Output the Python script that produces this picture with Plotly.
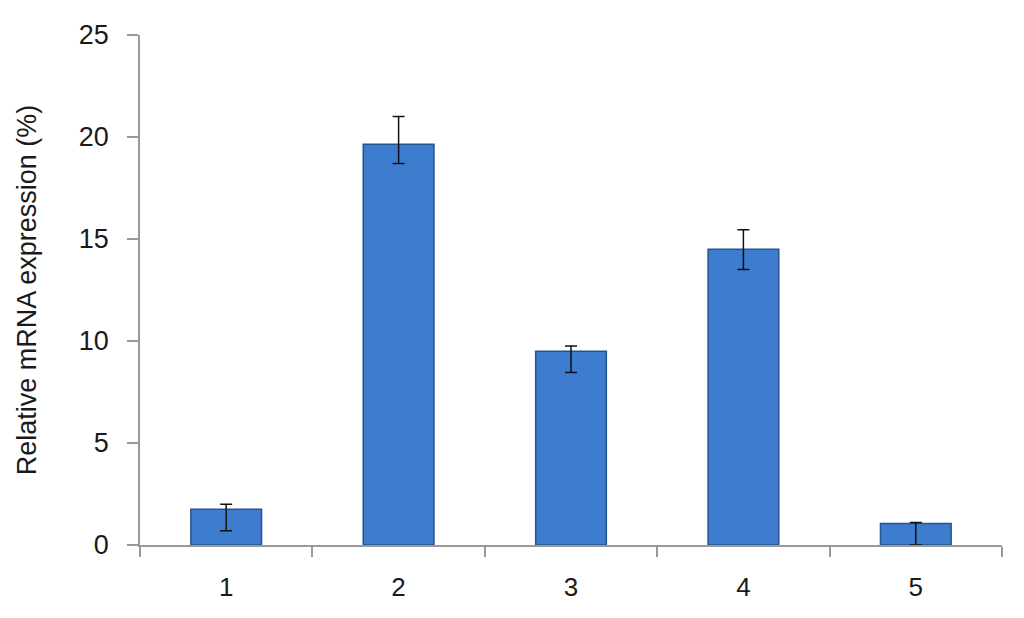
import plotly.graph_objects as go

categories = ["1", "2", "3", "4", "5"]
values = [1.75, 19.65, 9.5, 14.5, 1.05]
err_plus = [0.25, 1.35, 0.25, 0.95, 0.05]
err_minus = [1.05, 0.95, 1.05, 1.0, 1.05]
y_ticks = [0, 5, 10, 15, 20, 25]

fig = go.Figure()
fig.add_trace(go.Bar(
    x=categories, y=values,
    marker=dict(color="#3D7CCE", line=dict(color="#26548F", width=1.5)),
    error_y=dict(type="data", symmetric=False, array=err_plus, arrayminus=err_minus,
                 color="#111111", thickness=1.5, width=6),
))

fig.update_layout(
    width=1024, height=618,
    margin=dict(l=132, r=30, t=21, b=81),
    paper_bgcolor="white", plot_bgcolor="white",
    bargap=0.59,
    showlegend=False,
    font=dict(family="Liberation Sans, Arial, sans-serif", size=26, color="#1a1a1a"),
)
fig.update_yaxes(
    range=[0, 25], tickvals=y_ticks, showgrid=False, zeroline=False,
    showline=True, linecolor="#999999", linewidth=1.5,
    ticks="outside", ticklen=11, tickcolor="#999999", tickwidth=1.5,
    ticklabelstandoff=13, tickfont=dict(size=27),
    title=dict(text="Relative mRNA expression (%)", font=dict(size=27), standoff=34),
)
fig.update_xaxes(
    showgrid=False, showline=True, linecolor="#999999", linewidth=1.5,
    ticks="outside", tickson="boundaries", ticklen=10, tickcolor="#999999", tickwidth=1.5,
    ticklabelstandoff=18, tickfont=dict(size=26),
)

fig.write_html("out.html")
